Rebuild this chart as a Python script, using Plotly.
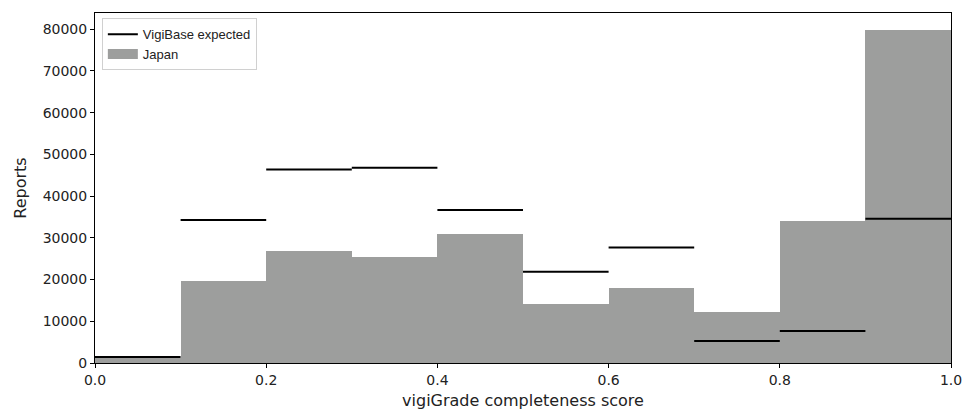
import plotly.graph_objects as go

bin_edges = [0.0, 0.1, 0.2, 0.3, 0.4, 0.5, 0.6, 0.7, 0.8, 0.9, 1.0]
japan = [1100, 19650, 26800, 25400, 31000, 14050, 17950, 12150, 34150, 79900]
vigibase_expected = [1450, 34300, 46400, 46800, 36650, 21850, 27700, 5250, 7650, 34550]
x_ticks = [0.0, 0.2, 0.4, 0.6, 0.8, 1.0]
x_tick_labels = ["0.0", "0.2", "0.4", "0.6", "0.8", "1.0"]
y_ticks = [0, 10000, 20000, 30000, 40000, 50000, 60000, 70000, 80000]
y_tick_labels = [str(v) for v in y_ticks]

BAR_COLOR = "#9d9e9d"

centers = [(bin_edges[i] + bin_edges[i + 1]) / 2 for i in range(len(japan))]
widths = [bin_edges[i + 1] - bin_edges[i] for i in range(len(japan))]

seg_x, seg_y = [], []
for i, v in enumerate(vigibase_expected):
    seg_x += [bin_edges[i], bin_edges[i + 1], None]
    seg_y += [v, v, None]

fig = go.Figure()
fig.add_trace(go.Bar(
    x=centers, y=japan, width=widths, name="Japan", showlegend=False,
    marker=dict(color=BAR_COLOR, line=dict(width=0)),
))
fig.add_trace(go.Scatter(
    x=seg_x, y=seg_y, mode="lines", name="VigiBase expected",
    line=dict(color="black", width=2), legendrank=1,
))
# legend-only entry to show a rectangular patch like the reference
fig.add_trace(go.Scatter(
    x=[None], y=[None], mode="lines", name="Japan",
    line=dict(color=BAR_COLOR, width=10), legendrank=2,
))

fig.update_layout(
    width=974, height=419, autosize=False,
    margin=dict(l=95, r=12, t=12, b=48),
    plot_bgcolor="white", paper_bgcolor="white",
    bargap=0,
    showlegend=True,
    legend=dict(
        x=0.008, y=0.985, xanchor="left", yanchor="top",
        bgcolor="white", bordercolor="#d0d0d0", borderwidth=1,
        font=dict(family="Liberation Sans, Arial", size=13, color="#222"),
        tracegroupgap=0,
    ),
    font=dict(family="DejaVu Sans", color="#222"),
)
fig.update_xaxes(
    range=[0, 1], tickvals=x_ticks, ticktext=x_tick_labels,
    ticks="outside", ticklen=4, tickwidth=1, tickcolor="black",
    showline=True, linecolor="black", linewidth=1, mirror=True,
    showgrid=False, zeroline=False,
    tickfont=dict(family="DejaVu Sans", size=14, color="#222"),
    title=dict(text="vigiGrade completeness score", font=dict(family="DejaVu Sans", size=16, color="#222"), standoff=8),
)
fig.update_yaxes(
    range=[0, 83900], tickvals=y_ticks, ticktext=y_tick_labels,
    ticks="outside", ticklen=4, tickwidth=1, tickcolor="black",
    showline=True, linecolor="black", linewidth=1, mirror=True,
    showgrid=False, zeroline=False,
    tickfont=dict(family="DejaVu Sans", size=14, color="#222"),
    title=dict(text="Reports", font=dict(family="DejaVu Sans", size=16, color="#222"), standoff=12),
)

post = (
    "var h=document.documentElement,b=document.body;"
    "h.style.margin='0';h.style.padding='0';h.style.overflow='hidden';"
    "b.style.margin='0';b.style.padding='0';b.style.overflow='hidden';"
)
fig.write_html(
    "out.html",
    config={"displayModeBar": False, "responsive": False},
    post_script=post,
)
